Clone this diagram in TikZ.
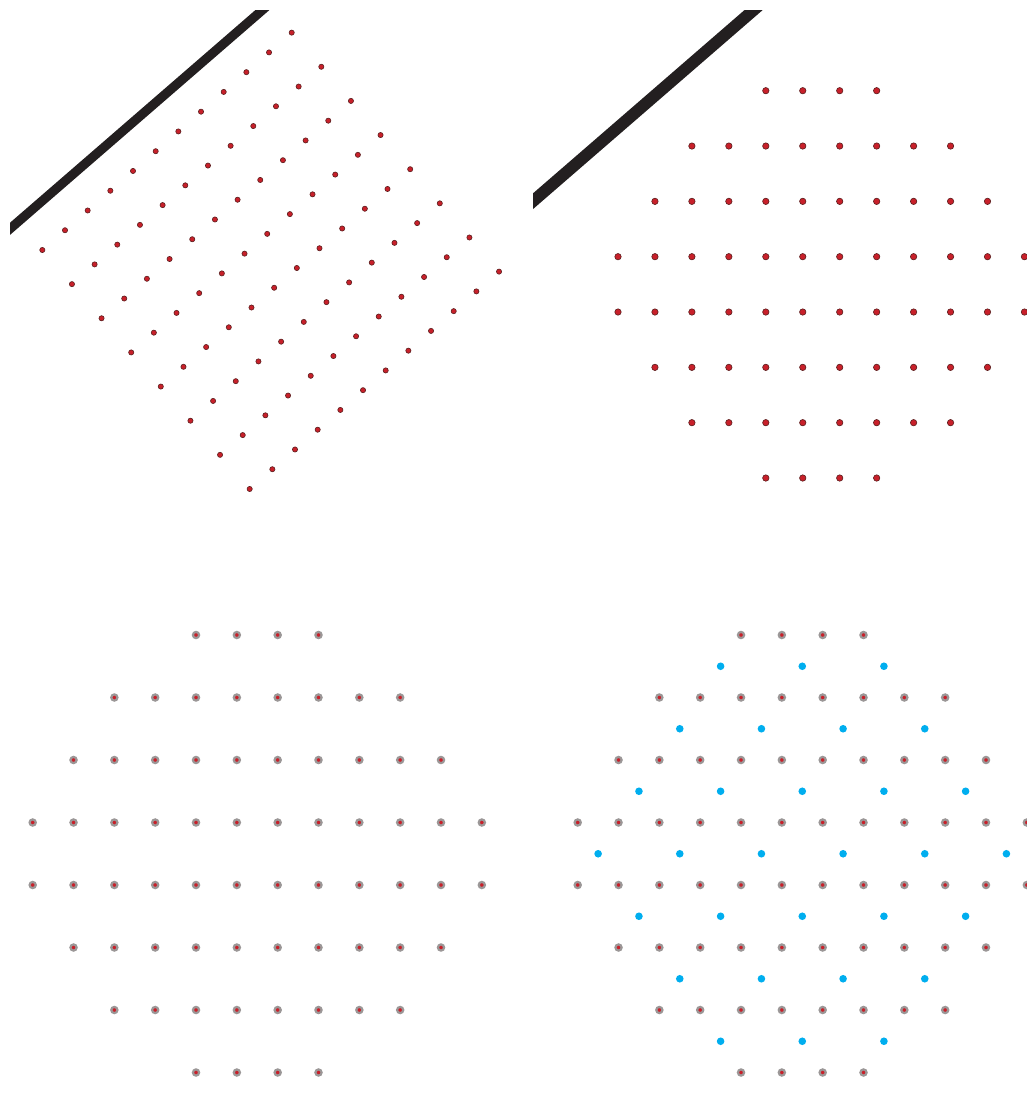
\documentclass[tikz,border=0pt]{standalone}
\usepackage{tikz}
\usetikzlibrary{positioning}
\usepackage{xcolor}
\definecolor{dotred}{HTML}{C8202A}
\definecolor{dotrim}{HTML}{5A1E1E}
\definecolor{halo}{HTML}{7A7474}
\definecolor{dotblue}{HTML}{00AEEF}
\definecolor{barblack}{HTML}{231F20}

\begin{document}
\begin{tikzpicture}[
  x=1pt, y=-1pt,
  dot/.style={circle, inner sep=0pt, fill=dotred, draw=dotrim, line width=0.6pt},
  smalldot/.style={dot, minimum size=5.2pt},
  middot/.style={dot, minimum size=6.4pt},
  softdot/.style={circle, inner sep=0pt, minimum size=6.2pt, fill=dotred,
                  draw=halo!75, line width=2.2pt},
  bluedot/.style={circle, inner sep=0pt, minimum size=7.6pt, fill=dotblue},
  bar/.style={draw=barblack, line cap=butt}
]
  \useasboundingbox (0,0) rectangle (1027,1116);

  % Rotated grid (top left)
  \begin{scope}
    \clip (10,11) rectangle (520,520);
    \coordinate (barA-start) at (-2.1,239.3);
    \coordinate (barA-end) at (272.6,1.2);
    \draw[bar, line width=9.2pt] (barA-start) -- (barA-end);
  \end{scope}
  \foreach \i in {0,...,11}
    \foreach \j in {0,...,7}
      \node[smalldot] (tl-\i-\j) at ({42.33+\i*22.67+\j*29.62}, {250-\i*19.76+\j*34.14}) {};

  % Octagon (top right)
  \begin{scope}
    \clip (533,11) rectangle (1027,520);
    \coordinate (barB-start) at (520.9,211.7);
    \coordinate (barB-end) at (763.8,1.2);
    \draw[bar, line width=11.9pt] (barB-start) -- (barB-end);
  \end{scope}
  \foreach \a/\b [count=\r from 0] in {4/7,2/9,1/10,0/11,0/11,1/10,2/9,4/7}
    \foreach \i in {\a,...,\b}
      \node[middot] (tr-\r-\i) at ({618+\i*36.95}, {90.7+\r*55.33}) {};

  % Octagon, soft (bottom left)
  \foreach \a/\b [count=\r from 0] in {4/7,2/9,1/10,0/11,0/11,1/10,2/9,4/7}
    \foreach \i in {\a,...,\b}
      \node[softdot] (bl-\r-\i) at ({32.7+\i*40.83}, {635+\r*62.5}) {};

  % Octagon with interleaved sites (bottom right)
  \foreach \a/\b [count=\r from 0] in {4/7,2/9,1/10,0/11,0/11,1/10,2/9,4/7}
    \foreach \i in {\a,...,\b}
      \node[softdot] (br-\r-\i) at ({577.7+\i*40.83}, {635+\r*62.5}) {};
  \foreach \s/\n [count=\k from 0] in {3.5/3,2.5/4,1.5/5,0.5/6,1.5/5,2.5/4,3.5/3}
    \foreach \m in {1,...,\n}
      \node[bluedot] (bb-\k-\m) at ({577.7+(\s+2*(\m-1))*40.83}, {666.25+\k*62.5}) {};
\end{tikzpicture}
\end{document}
